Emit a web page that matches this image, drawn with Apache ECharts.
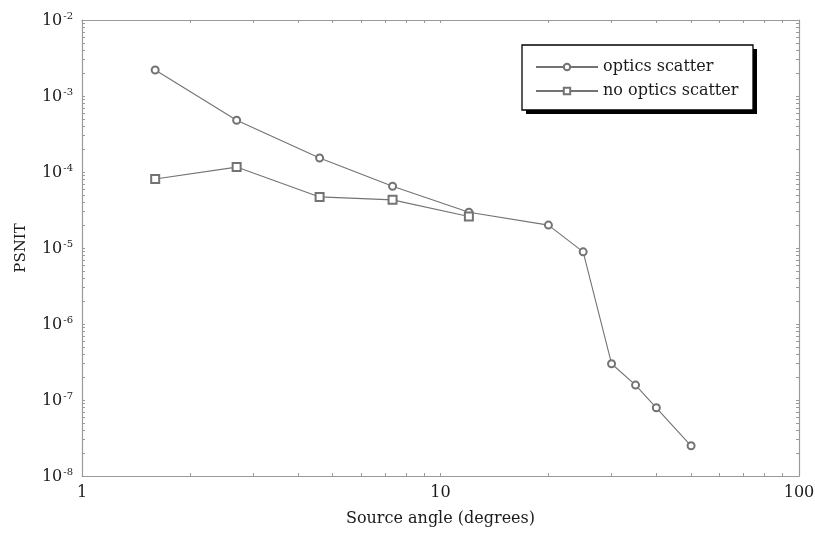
<!DOCTYPE html>
<html>
<head>
<meta charset="utf-8">
<script src="https://cdn.jsdelivr.net/npm/echarts@6/dist/echarts.min.js"></script>
<style>html,body{margin:0;padding:0;background:#fff}#c{width:815px;height:533px}</style>
</head>
<body>
<div id="c"></div>
<script>
// ---- data ----
var angles = [1.6, 2.7, 4.6, 7.35, 12, 20, 25, 30, 35, 40, 50];
var opticsScatter = [2.2e-3, 4.8e-4, 1.53e-4, 6.5e-5, 2.95e-5, 2.0e-5, 8.9e-6, 3.0e-7, 1.57e-7, 7.9e-8, 2.5e-8];
var noOpticsAngles = [1.6, 2.7, 4.6, 7.35, 12];
var noOpticsScatter = [8.1e-5, 1.16e-4, 4.7e-5, 4.3e-5, 2.6e-5];
var xTickLabels = [1, 10, 100];
var yTickLabels = [1e-8, 1e-7, 1e-6, 1e-5, 1e-4, 1e-3, 1e-2];
var minorMultipliers = [1, 2, 3, 4, 5, 6, 7, 8, 9];

function logTicks(majors) {
  var out = [];
  for (var i = 0; i < majors.length - 1; i++) {
    for (var j = 0; j < minorMultipliers.length; j++) {
      out.push(parseFloat((majors[i] * minorMultipliers[j]).toPrecision(6)));
    }
  }
  out.push(majors[majors.length - 1]);
  return out;
}
var xTicks = logTicks(xTickLabels);
var yTicks = logTicks(yTickLabels);

var FONT = 'DejaVu Serif';
var AXIS_COLOR = '#9a9a9a';
var LINE_COLOR = '#737373';
var TEXT_COLOR = '#1a1a1a';

function pairs(xs, ys) { return xs.map(function (x, i) { return [x, ys[i]]; }); }

function xAxisDef(pos, showLabel) {
  return {
    type: 'log', logBase: 10, min: 1, max: 100, position: pos,
    name: showLabel ? 'Source angle (degrees)' : '',
    nameLocation: 'middle', nameGap: 35,
    nameTextStyle: { fontFamily: FONT, fontSize: 16, color: TEXT_COLOR },
    axisLine: { show: true, onZero: false, lineStyle: { color: AXIS_COLOR, width: 1.2 } },
    axisTick: { show: true, inside: true, length: 3, customValues: xTicks, lineStyle: { color: AXIS_COLOR } },
    axisLabel: { show: showLabel, customValues: xTickLabels, margin: 9, fontFamily: FONT, fontSize: 16, color: TEXT_COLOR,
      formatter: function (v) { return String(Math.round(v)); } },
    splitLine: { show: false }
  };
}
function yAxisDef(pos, showLabel) {
  return {
    type: 'log', logBase: 10, min: 1e-8, max: 1e-2, position: pos,
    name: showLabel ? 'PSNIT' : '',
    nameLocation: 'middle', nameGap: 53,
    nameTextStyle: { fontFamily: FONT, fontSize: 15, color: TEXT_COLOR },
    axisLine: { show: true, onZero: false, lineStyle: { color: AXIS_COLOR, width: 1.2 } },
    axisTick: { show: true, inside: true, length: 3, customValues: yTicks, lineStyle: { color: AXIS_COLOR } },
    axisLabel: { show: showLabel, customValues: yTickLabels, margin: 9,
      formatter: function (v) { return '{b|10}{e|' + Math.round(Math.log10(v)) + '}'; },
      rich: {
        b: { fontFamily: FONT, fontSize: 16, color: TEXT_COLOR, verticalAlign: 'bottom' },
        e: { fontFamily: FONT, fontSize: 10, color: TEXT_COLOR, verticalAlign: 'bottom', padding: [0, 0, 8, 1] }
      }
    },
    splitLine: { show: false }
  };
}

var chart = echarts.init(document.getElementById('c'));
chart.setOption({
  animation: false,
  backgroundColor: '#fff',
  grid: { left: 82, right: 16, top: 20, bottom: 57, containLabel: false, outerBoundsMode: 'none' },
  xAxis: [xAxisDef('bottom', true), xAxisDef('top', false)],
  yAxis: [yAxisDef('left', true), yAxisDef('right', false)],
  graphic: [
    { type: 'rect', z: 1, shape: { x: 526, y: 49, width: 231, height: 65 }, style: { fill: '#000' } },
    { type: 'rect', z: 2, shape: { x: 522, y: 45, width: 231, height: 65 }, style: { fill: '#fff', stroke: '#000', lineWidth: 1.3 } }
  ],
  legend: {
    orient: 'vertical', left: 522, top: 45, align: 'left', z: 10,
    padding: [14, 10, 12, 13], itemGap: 8, itemWidth: 62, itemHeight: 8,
    backgroundColor: 'transparent', borderWidth: 0,
    textStyle: { fontFamily: FONT, fontSize: 16, color: TEXT_COLOR },
    data: ['optics scatter', 'no optics scatter']
  },
  series: [
    {
      name: 'optics scatter', type: 'line', xAxisIndex: 0, yAxisIndex: 0,
      data: pairs(angles, opticsScatter),
      symbol: 'emptyCircle', symbolSize: 7,
      lineStyle: { color: LINE_COLOR, width: 1.1 },
      itemStyle: { color: LINE_COLOR, borderColor: LINE_COLOR, borderWidth: 1 }
    },
    {
      name: 'no optics scatter', type: 'line', xAxisIndex: 0, yAxisIndex: 0,
      data: pairs(noOpticsAngles, noOpticsScatter),
      symbol: 'emptyRect', symbolSize: 8,
      lineStyle: { color: LINE_COLOR, width: 1.1 },
      itemStyle: { color: LINE_COLOR, borderColor: LINE_COLOR, borderWidth: 1 }
    }
  ]
});
</script>
</body>
</html>
